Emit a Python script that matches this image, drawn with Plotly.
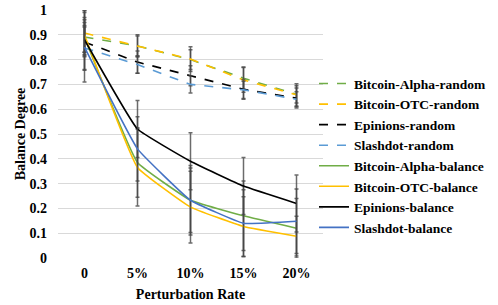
import plotly.graph_objects as go

categories = ["0", "5%", "10%", "15%", "20%"]

series_names = [
    "Bitcoin-Alpha-random", "Bitcoin-OTC-random", "Epinions-random", "Slashdot-random",
    "Bitcoin-Alpha-balance", "Bitcoin-OTC-balance", "Epinions-balance", "Slashdot-balance",
]

alpha_random = [0.891, 0.855, 0.800, 0.725, 0.660]
otc_random = [0.907, 0.855, 0.802, 0.718, 0.658]
epinions_random = [0.871, 0.790, 0.735, 0.680, 0.645]
slashdot_random = [0.847, 0.780, 0.700, 0.678, 0.640]
alpha_balance = [0.890, 0.385, 0.233, 0.170, 0.120]
otc_balance = [0.900, 0.365, 0.205, 0.127, 0.088]
epinions_balance = [0.880, 0.520, 0.390, 0.290, 0.220]
slashdot_balance = [0.850, 0.440, 0.233, 0.140, 0.148]

alpha_random_err = [0.07, 0.040, 0.040, 0.045, 0.035]
otc_random_err = [0.09, 0.045, 0.050, 0.050, 0.045]
epinions_random_err = [0.06, 0.045, 0.040, 0.040, 0.040]
slashdot_random_err = [0.09, 0.035, 0.035, 0.035, 0.030]
alpha_balance_err = [0.06, 0.140, 0.130, 0.140, 0.120]
otc_balance_err = [0.07, 0.155, 0.145, 0.120, 0.080]
epinions_balance_err = [0.12, 0.115, 0.115, 0.115, 0.115]
slashdot_balance_err = [0.14, 0.130, 0.140, 0.135, 0.130]

values = [alpha_random, otc_random, epinions_random, slashdot_random,
          alpha_balance, otc_balance, epinions_balance, slashdot_balance]
errors = [alpha_random_err, otc_random_err, epinions_random_err, slashdot_random_err,
          alpha_balance_err, otc_balance_err, epinions_balance_err, slashdot_balance_err]
colors = ["#70AD47", "#FFC000", "#000000", "#5B9BD5",
          "#70AD47", "#FFC000", "#000000", "#4472C4"]
dashes = ["dash"] * 4 + ["solid"] * 4

fig = go.Figure()
for name, v, e, c, d in zip(series_names, values, errors, colors, dashes):
    fig.add_trace(go.Scatter(
        x=categories, y=v, name="<b>" + name + "</b>", mode="lines",
        line=dict(color=c, width=1.6, dash=d,
                  shape="spline" if d == "solid" else "linear",
                  smoothing=0.3 if d == "solid" else None),
        error_y=dict(type="data", array=e, visible=True,
                     color="rgba(70,70,70,0.8)", thickness=1.5, width=2),
    ))

ff = "Liberation Serif"
fig.update_layout(
    width=498, height=305,
    margin=dict(l=58, r=175, t=10, b=47, autoexpand=False),
    plot_bgcolor="white", paper_bgcolor="white",
    font=dict(family=ff, size=14, color="#000000"),
    showlegend=True,
    legend=dict(x=(314 - 58) / 265, xanchor="left", y=0.765, yanchor="top",
                font=dict(family=ff, size=13.5, color="#000000"),
                bgcolor="rgba(0,0,0,0)", tracegroupgap=0),
    xaxis=dict(type="category", range=[-0.5, 4.5], showgrid=False, zeroline=False,
               showline=False, ticks="", automargin=False,
               ticklabelstandoff=5,
               tickfont=dict(family=ff, size=14, weight="bold"),
               title=dict(text="<b>Perturbation Rate</b>", font=dict(family=ff, size=14), standoff=9)),
    yaxis=dict(range=[0, 1], dtick=0.1, showgrid=True, gridcolor="#D9D9D9", gridwidth=1,
               zeroline=False, showline=False, ticks="", automargin=False,
               ticklabelstandoff=10,
               tickfont=dict(family=ff, size=14, weight="bold"),
               title=dict(text="<b>Balance Degree</b>", font=dict(family=ff, size=14), standoff=0)),
)

fig.write_html("out.html", config={"displayModeBar": False},
               post_script="document.body.style.margin='0';document.body.style.padding='0';")
